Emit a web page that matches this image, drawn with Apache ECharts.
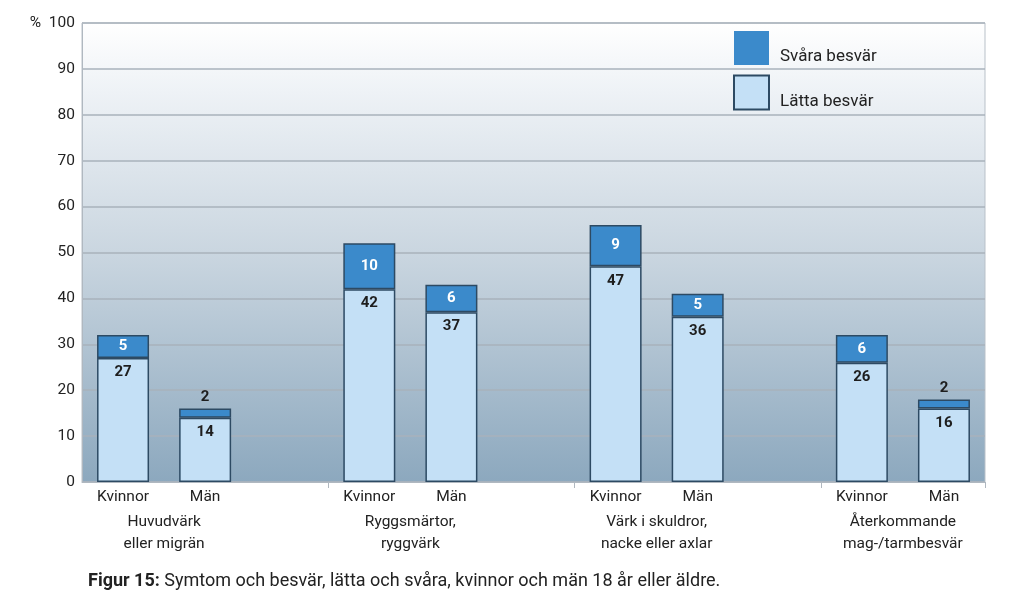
<!DOCTYPE html>
<html>
<head>
<meta charset="utf-8">
<script src="https://cdn.jsdelivr.net/npm/echarts@6/dist/echarts.min.js"></script>
<style>
  html, body { margin: 0; padding: 0; background: #fff; }
  #chart { width: 1023px; height: 607px; }
</style>
</head>
<body>
<div id="chart"></div>
<script>
// slots: Kvinnor, Män, gap, ... (11 slots, last group has no gap)
const slots = ["Kvinnor", "Män", "", "Kvinnor", "Män", "", "Kvinnor", "Män", "", "Kvinnor", "Män"];
const lattaValues = [27, 14, "-", 42, 37, "-", 47, 36, "-", 26, 16];
const svaraValues = [5, 2, "-", 10, 6, "-", 9, 5, "-", 6, 2];
const groupNames = {
  1: "Huvudvärk\neller migrän",
  4: "Ryggsmärtor,\nryggvärk",
  7: "Värk i skuldror,\nnacke eller axlar",
  10: "Återkommande\nmag-/tarmbesvär"
};
const yTicks = [0, 10, 20, 30, 40, 50, 60, 70, 80, 90, 100];

const font = "Roboto";
const dark = "#2d4a63";

let option = {
  backgroundColor: "#fff",
  textStyle: { fontFamily: font },
  title: {
    text: "{b|Figur 15:} Symtom och besvär, lätta och svåra, kvinnor och män 18 år eller äldre.",
    left: 88,
    top: 572,
    padding: 0,
    textStyle: {
      fontFamily: font,
      fontSize: 18,
      fontWeight: "normal",
      color: "#222",
      rich: {
        b: { fontFamily: font, fontSize: 18, fontWeight: "bold", color: "#222" }
      }
    }
  },
  legend: {
    orient: "vertical",
    left: 733,
    top: 31,
    padding: 0,
    icon: "rect",
    itemWidth: 35,
    itemHeight: 34,
    itemGap: 9,
    data: [
      { name: "Svåra besvär", itemStyle: { borderWidth: 0 } },
      { name: "Lätta besvär" }
    ],
    formatter: "{a|{name}}",
    textStyle: {
      fontFamily: font,
      color: "#222",
      rich: { a: { fontFamily: font, fontSize: 17, color: "#222", padding: [18, 0, 0, 6] } }
    }
  },
  grid: {
    left: 82,
    right: 38,
    top: 23,
    bottom: 125,
    show: true,
    borderColor: "#b9c1c9",
    borderWidth: 1,
    backgroundColor: new echarts.graphic.LinearGradient(0, 0, 0, 1, [
      { offset: 0, color: "#ffffff" },
      { offset: 0.15, color: "#eef2f6" },
      { offset: 0.5, color: "#cad6e0" },
      { offset: 1, color: "#8ca8be" }
    ])
  },
  xAxis: [
    {
      type: "category",
      data: slots,
      axisLine: { lineStyle: { color: "#b0b8c0", width: 1 } },
      axisTick: {
        show: true,
        length: 6,
        lineStyle: { color: "#b0b8c0" },
        interval: function (i) { return i === 3 || i === 6 || i === 9; }
      },
      axisLabel: { interval: 0, margin: 7, fontSize: 15.5, color: "#222", fontFamily: font }
    },
    {
      type: "value",
      position: "bottom",
      min: 0,
      max: 11,
      interval: 1,
      axisLine: { show: false },
      axisTick: { show: false },
      splitLine: { show: false },
      axisLabel: {
        margin: 29,
        fontSize: 15.5,
        lineHeight: 22,
        color: "#222",
        fontFamily: font,
        formatter: function (v) { return groupNames[v] || ""; }
      }
    }
  ],
  yAxis: {
    type: "value",
    min: yTicks[0],
    max: yTicks[yTicks.length - 1],
    interval: 10,
    axisLine: { show: true, lineStyle: { color: "#b0b8c0" } },
    axisTick: { show: false },
    splitLine: { lineStyle: { color: "#a9b2bb", width: 1.5 } },
    axisLabel: {
      fontSize: 15.5,
      color: "#222",
      margin: 7,
      fontFamily: font,
      formatter: function (v) { return v === 100 ? "%  100" : String(v); }
    }
  },
  series: [
    {
      name: "Lätta besvär",
      type: "bar",
      stack: "total",
      barWidth: 52,
      data: lattaValues,
      itemStyle: { color: "#c4e0f6", borderColor: dark, borderWidth: 1.5 },
      label: {
        show: true,
        position: "insideTop",
        distance: 7,
        color: "#1e1e1e",
        fontSize: 15,
        fontWeight: "bold",
        fontFamily: font
      }
    },
    {
      name: "Svåra besvär",
      type: "bar",
      stack: "total",
      barWidth: 52,
      data: svaraValues.map(function (v) {
        if (v !== "-" && v < 4) {
          return { value: v, label: { position: "top", color: "#1e1e1e", distance: 4 } };
        }
        return v;
      }),
      itemStyle: { color: "#3b8acb", borderColor: dark, borderWidth: 1.5 },
      label: {
        show: true,
        position: "inside",
        color: "#fff",
        fontSize: 15,
        fontWeight: "bold",
        fontFamily: font
      }
    }
  ]
};

let myChart = echarts.init(document.getElementById("chart"));
myChart.setOption(option);
</script>
</body>
</html>
